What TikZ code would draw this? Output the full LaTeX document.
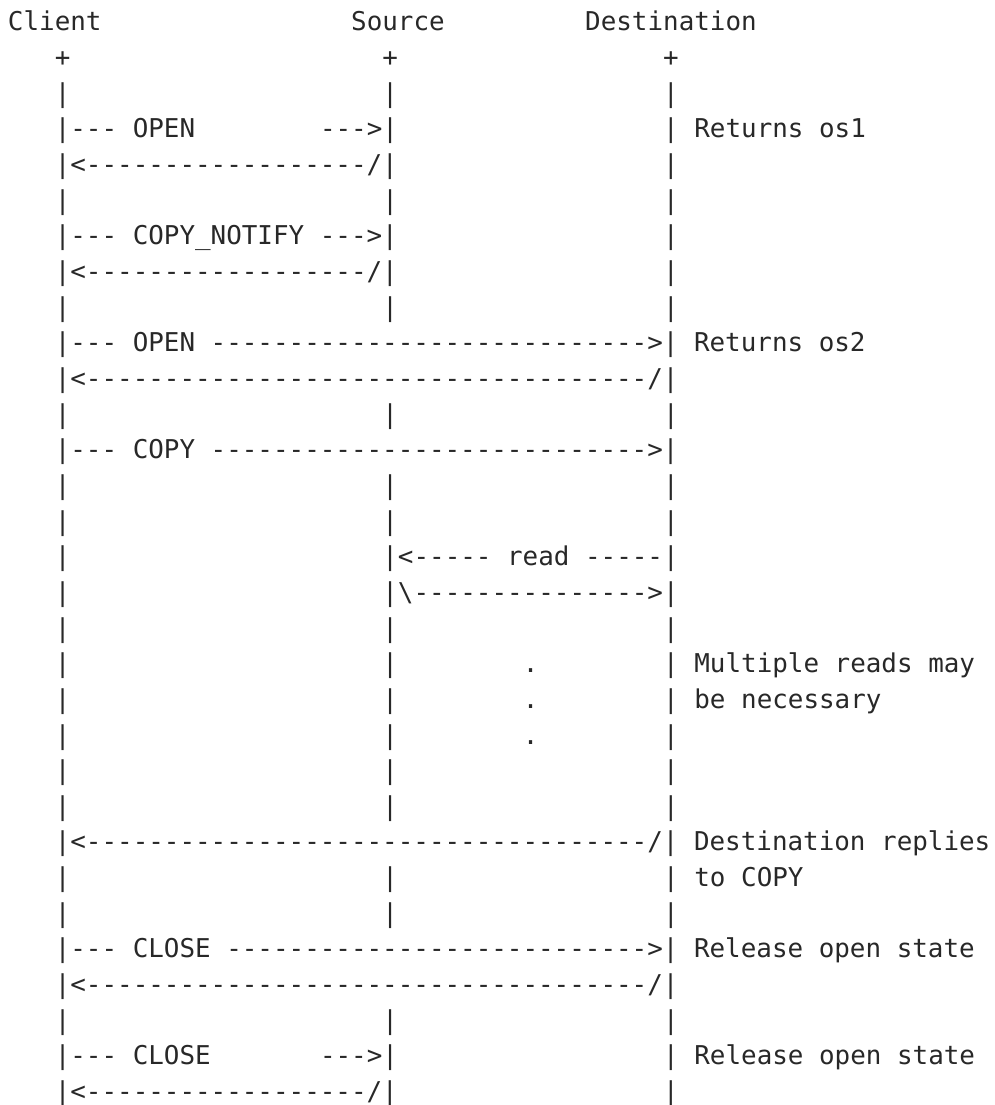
\documentclass[tikz,border=0pt]{standalone}
\usepackage{fontspec}
\setmonofont{DejaVu Sans Mono}
\definecolor{ink}{RGB}{40,40,40}
\ExplSyntaxOn
\NewDocumentCommand\dsh{m}{\prg_replicate:nn{#1}{-}}
\ExplSyntaxOff
\newcommand\seg[4]{\node[mono] (#1) at ({8+#2*15.6},{-(31+(#3-1)*35.65)}) {#4};}
\newcommand\bars[1]{\seg{b#1a}{3}{#1}{|}\seg{b#1b}{24}{#1}{|}\seg{b#1c}{42}{#1}{|}}
\begin{document}
\begin{tikzpicture}[x=1pt,y=1pt,
  mono/.style={anchor=base west,inner sep=0pt,outer sep=0pt,text=ink,
    font=\ttfamily\fontsize{25.9}{30}\selectfont}]
\useasboundingbox (0,0) rectangle (994,-1105);
% row 1
\seg{client}{0}{1}{Client}
\seg{source}{22}{1}{Source}
\seg{dest}{37}{1}{Destination}
% row 2
\seg{pa}{3}{2}{+}\seg{pb}{24}{2}{+}\seg{pc}{42}{2}{+}
\bars{3}
% row 4
\seg{r4a}{3}{4}{|\dsh{3} OPEN}
\seg{r4b}{20}{4}{\dsh{3}>|}
\seg{r4c}{42}{4}{| Returns os1}
% row 5
\seg{r5a}{3}{5}{|<\dsh{18}/|}
\seg{r5c}{42}{5}{|}
\bars{6}
% row 7
\seg{r7a}{3}{7}{|\dsh{3} COPY\_NOTIFY \dsh{3}>|}
\seg{r7c}{42}{7}{|}
% row 8
\seg{r8a}{3}{8}{|<\dsh{18}/|}
\seg{r8c}{42}{8}{|}
\bars{9}
% row 10
\seg{r10}{3}{10}{|\dsh{3} OPEN \dsh{28}>| Returns os2}
\seg{r11}{3}{11}{|<\dsh{36}/|}
\bars{12}
\seg{r13}{3}{13}{|\dsh{3} COPY \dsh{28}>|}
\bars{14}
\bars{15}
% read
\seg{r16a}{3}{16}{|}
\seg{r16b}{24}{16}{|<\dsh{5} read \dsh{5}|}
\seg{r17a}{3}{17}{|}
\seg{r17b}{24}{17}{|\textbackslash\dsh{15}>|}
\bars{18}
% dots
\seg{r19a}{3}{19}{|}\seg{r19b}{24}{19}{|}\seg{r19d}{33}{19}{.}
\seg{r19c}{42}{19}{| Multiple reads may}
\seg{r20a}{3}{20}{|}\seg{r20b}{24}{20}{|}\seg{r20d}{33}{20}{.}
\seg{r20c}{42}{20}{| be necessary}
\seg{r21a}{3}{21}{|}\seg{r21b}{24}{21}{|}\seg{r21d}{33}{21}{.}
\seg{r21c}{42}{21}{|}
\bars{22}
\bars{23}
\seg{r24}{3}{24}{|<\dsh{36}/| Destination replies}
\seg{r25a}{3}{25}{|}\seg{r25b}{24}{25}{|}
\seg{r25c}{42}{25}{| to COPY}
\bars{26}
\seg{r27}{3}{27}{|\dsh{3} CLOSE \dsh{27}>| Release open state}
\seg{r28}{3}{28}{|<\dsh{36}/|}
\bars{29}
\seg{r30a}{3}{30}{|\dsh{3} CLOSE}
\seg{r30b}{20}{30}{\dsh{3}>|}
\seg{r30c}{42}{30}{| Release open state}
\seg{r31a}{3}{31}{|<\dsh{18}/|}
\seg{r31c}{42}{31}{|}
\end{tikzpicture}
\end{document}
